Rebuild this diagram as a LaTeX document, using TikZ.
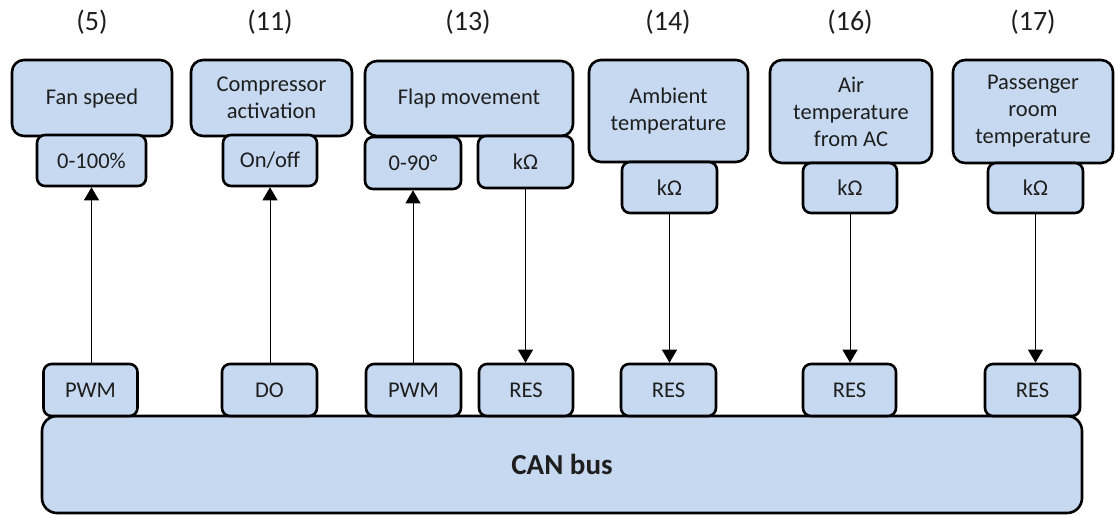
\documentclass[tikz,border=0pt]{standalone}
\usepackage{fontspec}
\setmainfont{Carlito}
\usetikzlibrary{arrows.meta}
\definecolor{boxfill}{HTML}{C6D9F1}
\definecolor{ink}{HTML}{1E1E1E}
\begin{document}
\begin{tikzpicture}[x=1pt,y=-1pt,
  box/.style={draw=black,line width=2.6pt,fill=boxfill,rounded corners=12pt,
    inner sep=0pt,align=center,text=ink,font=\fontsize{22.5}{27}\selectfont},
  tag/.style={box,rounded corners=8pt},
  num/.style={text=ink,font=\fontsize{28}{32}\selectfont,inner sep=0pt},
  link/.style={line width=1pt,-{Triangle[length=13pt,width=15pt]}}]
\useasboundingbox (0,0) rectangle (1115,515);

% channel numbers
\node[num] (n5)  at (92,22)   {(5)};
\node[num] (n11) at (270,22)  {(11)};
\node[num] (n13) at (468,22)  {(13)};
\node[num] (n14) at (668,22)  {(14)};
\node[num] (n16) at (850,22)  {(16)};
\node[num] (n17) at (1033,22) {(17)};

% components
\node[box,minimum width=160pt,minimum height=76pt] (fan)  at (92,98)     {Fan speed};
\node[box,minimum width=161pt,minimum height=76pt] (comp) at (271.5,98)  {Compressor\\activation};
\node[box,minimum width=208pt,minimum height=75pt] (flap) at (469,98.5)  {Flap movement};
\node[box,minimum width=159pt,minimum height=102pt] (amb) at (668.5,111) {Ambient\\temperature};
\node[box,minimum width=162pt,minimum height=103pt] (air) at (851,111.5) {Air\\temperature\\from AC};
\node[box,minimum width=160pt,minimum height=103pt] (pass) at (1033,111.5) {Passenger\\room\\temperature};

% signal ranges
\node[tag,minimum width=109pt,minimum height=51pt] (fanv)  at (91.5,160.5) {0-100\%};
\node[tag,minimum width=94pt,minimum height=51pt]  (compv) at (270,160.5)  {On/off};
\node[tag,minimum width=96pt,minimum height=52pt]  (flapv) at (413,163)    {0-90°};
\node[tag,minimum width=95pt,minimum height=52pt]  (flapk) at (525.5,162)  {kΩ};
\node[tag,minimum width=95pt,minimum height=51pt]  (ambk)  at (669.5,187.5) {kΩ};
\node[tag,minimum width=94pt,minimum height=50pt]  (airk)  at (850,188)    {kΩ};
\node[tag,minimum width=95pt,minimum height=50pt]  (passk) at (1035.5,188) {kΩ};

% bus
\node[box,rounded corners=15pt,minimum width=1040pt,minimum height=97pt,
  font=\fontsize{29}{33}\selectfont\bfseries] (can) at (562,464.5) {CAN bus};

% bus interfaces
\node[tag,minimum width=94pt,minimum height=52pt] (pwm1) at (90.5,390)   {PWM};
\node[tag,minimum width=95pt,minimum height=52pt] (do)   at (269.5,390)  {DO};
\node[tag,minimum width=95pt,minimum height=52pt] (pwm2) at (413.5,390)  {PWM};
\node[tag,minimum width=94pt,minimum height=52pt] (res1) at (526,390)    {RES};
\node[tag,minimum width=95pt,minimum height=52pt] (res2) at (668.5,390)  {RES};
\node[tag,minimum width=93pt,minimum height=52pt] (res3) at (849.5,390)  {RES};
\node[tag,minimum width=95pt,minimum height=52pt] (res4) at (1032.5,390) {RES};

% signal flow
\draw[link] (fanv.south |- pwm1.north) -- (fanv.south);
\draw[link] (compv.south |- do.north) -- (compv.south);
\draw[link] (flapv.south |- pwm2.north) -- (flapv.south);
\draw[link] (flapk.south) -- (flapk.south |- res1.north);
\draw[link] (ambk.south) -- (ambk.south |- res2.north);
\draw[link] (airk.south) -- (airk.south |- res3.north);
\draw[link] (passk.south) -- (passk.south |- res4.north);
\end{tikzpicture}
\end{document}
